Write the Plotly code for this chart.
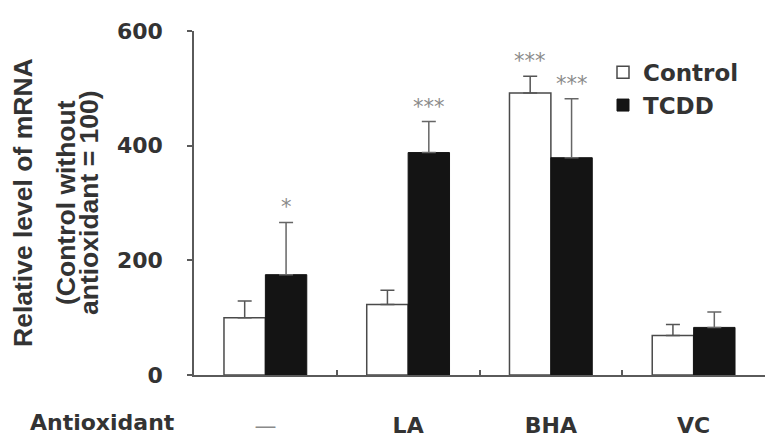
import plotly.graph_objects as go

categories = ["—", "LA", "BHA", "VC"]
tick_text = ['<span style="color:#8a8a8a;font-weight:normal">—</span>', "LA", "BHA", "VC"]
control = [100, 123, 492, 69]
control_err = [29, 25, 29, 19]
tcdd = [175, 388, 379, 83]
tcdd_err = [91, 54, 103, 27]
control_sig = ["", "", "***", ""]
tcdd_sig = ["*", "***", "***", ""]
y_ticks = [0, 200, 400, 600]

TXT = "#333333"
AX = "#5a5a5a"
BOLD = dict(family="DejaVu Sans", size=22, color=TXT, weight="bold")
STAR = dict(family="DejaVu Sans", size=21, color="#8a8a8a")

fig = go.Figure()
fig.add_trace(go.Bar(
    x=categories, y=control, name="Control",
    marker=dict(color="white", line=dict(color="#4a4a4a", width=1.5)),
    error_y=dict(type="data", array=control_err, arrayminus=[0] * 4, symmetric=False,
                 color="#555555", thickness=1.5, width=7),
))
fig.add_trace(go.Bar(
    x=categories, y=tcdd, name="TCDD",
    marker=dict(color="#141414", line=dict(color="#141414", width=1)),
    error_y=dict(type="data", array=tcdd_err, arrayminus=[0] * 4, symmetric=False,
                 color="#666666", thickness=1.5, width=7),
))

ann = []
for cat, v, e, s in zip(categories, control, control_err, control_sig):
    if s:
        ann.append(dict(x=cat, y=v + e, xref="x", yref="y", text=s, showarrow=False,
                        xshift=-21, yshift=15, font=STAR))
for cat, v, e, s in zip(categories, tcdd, tcdd_err, tcdd_sig):
    if s:
        ann.append(dict(x=cat, y=v + e, xref="x", yref="y", text=s, showarrow=False,
                        xshift=21, yshift=15, font=STAR))

title_font = dict(family="Liberation Sans", size=26.5, color=TXT, weight="bold")
for text, xp in [("Relative level of mRNA", 23), ("(Control without", 66), ("antioxidant = 100)", 89)]:
    ann.append(dict(x=(xp - 194) / 571, y=0.5, xref="paper", yref="paper", text=text,
                    textangle=-90, showarrow=False, xanchor="center", yanchor="middle", font=title_font))
ann.append(dict(x=(28 - 194) / 571, y=(379 - 427) / 349, xref="paper", yref="paper",
                text="Antioxidant", showarrow=False, xanchor="left", yanchor="middle",
                font=BOLD))

fig.update_layout(
    width=765, height=438,
    margin=dict(l=194, r=0, t=31, b=59),
    paper_bgcolor="white", plot_bgcolor="white",
    barmode="group", bargap=0.42, bargroupgap=0,
    showlegend=True,
    legend=dict(x=(603 - 194) / 571, y=(379 - 50) / 349, xanchor="left", yanchor="top",
                font=dict(family="DejaVu Sans", size=23, color=TXT, weight="bold"),
                bgcolor="rgba(0,0,0,0)", borderwidth=0, tracegroupgap=0),
    annotations=ann,
)
fig.update_xaxes(
    range=[-0.5, 3.5], tickvals=categories, ticktext=tick_text,
    showline=True, linecolor=AX, linewidth=1.5,
    ticks="inside", tickson="boundaries", ticklen=5, tickcolor=AX, tickwidth=1.5,
    tickfont=BOLD, ticklabelstandoff=30, showgrid=False, zeroline=False,
)
fig.update_yaxes(
    range=[0, 600], tickvals=y_ticks,
    showline=True, linecolor=AX, linewidth=1.5,
    ticks="outside", ticklen=5, tickcolor=AX, tickwidth=1.5,
    tickfont=BOLD, ticklabelstandoff=20, showgrid=False, zeroline=False,
)

fig.write_html("out.html")
